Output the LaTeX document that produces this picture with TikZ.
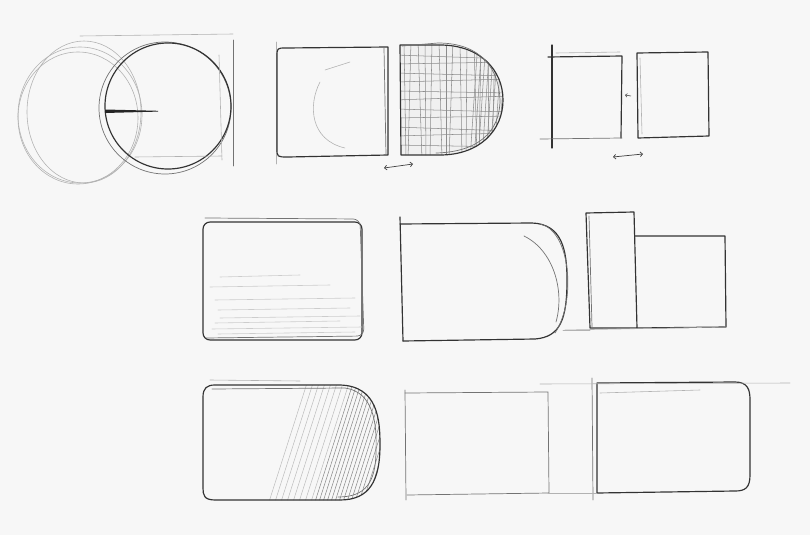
\documentclass[tikz,border=0pt]{standalone}
\usetikzlibrary{arrows.meta}
\begin{document}
\begin{tikzpicture}[x=0.03cm, y=-0.03cm,
  pencil/.style={draw=black!80, line width=1pt, line join=round, line cap=round},
  soft/.style={draw=black!55, line width=0.6pt, line cap=round},
  faint/.style={draw=black!30, line width=0.5pt, line cap=round},
  hatch/.style={draw=black!45, line width=0.45pt},
  tick/.style={draw=black!75, line width=0.6pt, {Straight Barb[length=2pt]}-{Straight Barb[length=2pt]}}]
\fill[black!3] (0,0) rectangle (810,535);
\useasboundingbox (0,0) rectangle (810,535);
% row 1: circles
\draw[faint] (80,115) ellipse (62 and 68);
\draw[faint] (84,112) ellipse (57 and 71);
\draw[faint] (78,118) ellipse (60 and 66);
\draw[soft] (165,108) circle (66);
\draw[pencil] (168,106) circle (63);
\draw[faint] (80,36) -- (233,34);
\draw[soft] (233,40) -- (233,166);
\draw[faint] (219,55) -- (222,160);
\draw[faint] (135,157) -- (222,156);
\fill[black!85] (105,109.5) -- (158,110.8) -- (158,111.6) -- (105,113) -- cycle;
% row 1: rounded box and hatched cap
\draw[faint] (276,42) -- (276,164);
\draw[pencil] (388,47) -- (286,48) .. controls (277,48) .. (277,57) -- (277,148) .. controls (277,157) .. (288,157) -- (388,155) -- cycle;
\draw[soft] (384,48) -- (386,155);
\draw[faint] (320,82) .. controls (308,105) and (310,140) .. (345,148);
\draw[faint] (325,70) -- (350,62);
\begin{scope}
  \clip (400,45) -- (440,45) .. controls (480,45) and (503,70) .. (503,100) .. controls (503,130) and (480,155) .. (440,155) -- (400,155) -- cycle;
  \fill[black!6] (395,40) rectangle (510,160);
  \foreach \x/\d in {404/2,411/-3,418/4,425/1,432/-2,439/3,446/0,453/-4,460/2,467/-1,474/3,481/-2,488/1,495/-3}
    \draw[hatch] (\x,40) -- (\x+\d,160);
  \foreach \y/\d in {55/4,64/-2,73/3,82/-3,91/2,100/-4,109/3,118/-2,127/4,136/-3,145/2}
    \draw[hatch] (395,\y) -- (510,\y+\d);
  \foreach \x in {478,482,...,506} \draw[hatch] (\x,40) -- (\x-8,160);
\end{scope}
\draw[pencil] (400,45) -- (440,45) .. controls (480,45) and (503,70) .. (503,100) .. controls (503,130) and (480,155) .. (440,155) -- (401,155) -- cycle;
\draw[soft] (402,46) -- (438,43) .. controls (482,43) and (499,70) .. (500,100) .. controls (500,132) and (478,152) .. (436,153);
\draw[tick] (384,168) -- (413,164);
% row 1: two squares
\draw[pencil] (552,45) -- (552,148);
\draw[pencil] (548,57) -- (622,56) -- (621,138);
\draw[soft] (540,139) -- (622,138);
\draw[faint] (556,53) -- (620,52);
\draw[pencil] (637,53) -- (708,52) -- (709,136) -- (638,138) -- cycle;
\draw[faint] (640,58) -- (642,134);
\draw[draw=black!70, line width=0.5pt, -{Straight Barb[length=1.5pt]}] (631,96) -- (625,95);
\draw[tick] (613,157) -- (643,154);
% row 2: rounded box with light shading
\draw[pencil, rounded corners=6pt] (203,222) rectangle (362,340);
\draw[soft, rounded corners=6pt] (205,218) -- (360,219) -- (364,336) -- (206,338);
\foreach \y/\a/\b in {277/220/300, 287/210/330, 300/215/355, 310/218/350, 318/220/360, 323/215/340, 329/212/362, 334/218/355}
  \draw[faint, draw=black!20] (\a,\y) -- (\b,\y-2);
% row 2: box with round end
\draw[pencil] (400,217) -- (403,341);
\draw[pencil] (400,224) -- (532,223) .. controls (562,224) and (567,250) .. (567,280) .. controls (567,320) and (560,337) .. (535,339) -- (403,341);
\draw[soft] (540,224) .. controls (570,230) and (577,300) .. (555,333);
\draw[soft] (524,236) .. controls (553,250) and (565,290) .. (556,322);
\draw[faint] (563,330) -- (590,330);
% row 2: step blocks
\draw[pencil] (586,213) -- (634,212) -- (637,328) -- (590,328) -- cycle;
\draw[soft] (589,216) -- (592,327);
\draw[pencil] (635,236) -- (725,236) -- (726,327) -- (637,328);
\draw[faint] (565,330) -- (726,327);
% row 3: box with hatched round end
\begin{scope}
  \clip (215,385) -- (340,385) .. controls (378,386) and (380,420) .. (380,445) .. controls (380,480) and (370,500) .. (340,500) -- (215,500) .. controls (204,500) and (203,495) .. (203,488) -- (203,397) .. controls (203,388) and (207,385) .. (215,385) -- cycle;
  \foreach \x in {268,274,...,310} \draw[hatch, draw=black!25] (\x,505) -- (\x+40,380);
  \foreach \x in {314,318,...,380} \draw[hatch] (\x,505) -- (\x+40,380);
\end{scope}
\draw[pencil] (215,385) -- (340,385) .. controls (378,386) and (380,420) .. (380,445) .. controls (380,480) and (370,500) .. (340,500) -- (215,500) .. controls (204,500) and (203,495) .. (203,488) -- (203,397) .. controls (203,388) and (207,385) .. (215,385) -- cycle;
\draw[soft] (212,389) -- (345,388) .. controls (374,392) and (377,425) .. (376,450) .. controls (376,482) and (366,497) .. (338,497);
\draw[faint] (210,380) -- (300,381);
% row 3: plain box
\draw[soft] (405,390) -- (406,500);
\draw[soft] (405,393) -- (548,392) -- (549,493) -- (407,495);
% row 3: box with rounded right corners
\draw[soft] (592,378) -- (593,500);
\draw[pencil] (597,383) -- (735,382) .. controls (748,382) and (750,390) .. (750,400) -- (750,475) .. controls (750,488) and (745,491) .. (735,491) -- (597,493) -- cycle;
\draw[faint] (540,384) -- (790,383);
\draw[faint] (548,493) -- (597,493);
\draw[faint] (600,393) -- (700,390);
\end{tikzpicture}
\end{document}
